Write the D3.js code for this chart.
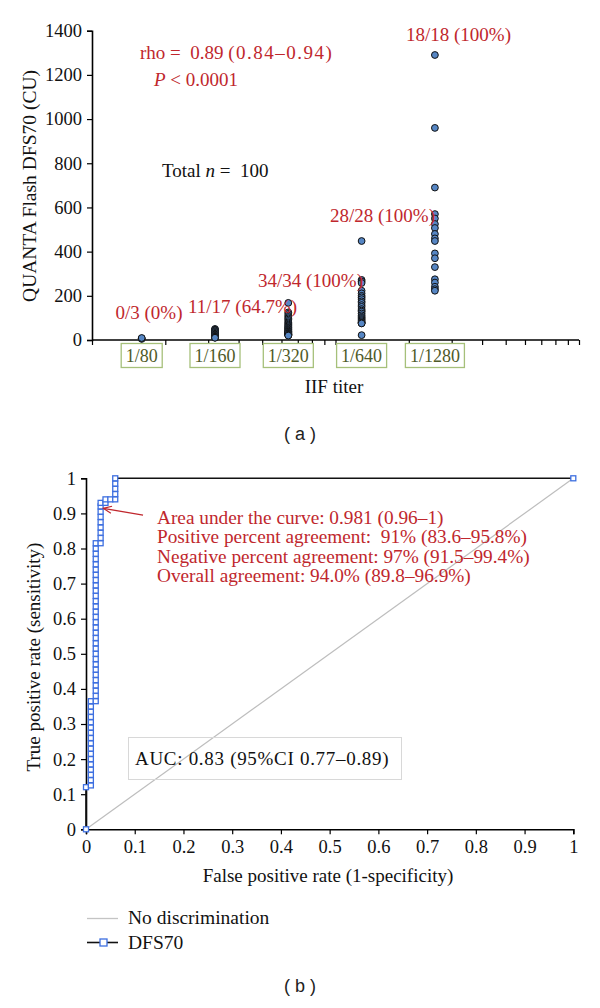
<!DOCTYPE html>
<html><head><meta charset="utf-8">
<script src="https://cdn.jsdelivr.net/npm/d3@7"></script>
<style>body{margin:0;background:#fff}svg{display:block}</style>
</head><body>
<script>
// ---------- Panel (a) data ----------
const titers = [80, 160, 320, 640, 1280];
const titerLabels = ["1/80", "1/160", "1/320", "1/640", "1/1280"];
const groupLabels = ["0/3 (0%)", "11/17 (64.7%)", "34/34 (100%)", "28/28 (100%)", "18/18 (100%)"];
const vals80 = [5, 7, 9];
const vals160 = [50, 47, 44, 40, 36, 32, 28, 25, 22, 20, 18, 16, 14, 13, 12, 11, 10];
const vals320 = [168, 125, 118, 110, 104, 98, 92, 86, 80, 75, 70, 66, 62, 58, 55, 52, 49, 46, 43, 40, 38, 36, 34, 32, 30, 28, 27, 26, 25, 24, 23, 22, 21, 20];
const vals640 = [448, 272, 265, 258, 223, 211, 200, 193, 185, 175, 168, 158, 150, 140, 133, 128, 120, 112, 105, 100, 95, 90, 85, 80, 78, 76, 75, 22];
const vals1280 = [1290, 960, 690, 570, 550, 525, 507, 480, 460, 448, 392, 370, 330, 275, 260, 241, 230, 223];
const yTicksA = [0, 200, 400, 600, 800, 1000, 1200, 1400];

// ---------- Panel (b) data ----------
const rocFpr = [0, 0, 0.01, 0.01, 0.01, 0.01, 0.01, 0.01, 0.01, 0.01, 0.01, 0.01, 0.01, 0.01, 0.01, 0.01, 0.01, 0.01, 0.01,
  0.02, 0.02, 0.02, 0.02, 0.02, 0.02, 0.02, 0.02, 0.02, 0.02, 0.02, 0.02, 0.02, 0.02, 0.02, 0.02, 0.02, 0.02, 0.02, 0.02, 0.02, 0.02, 0.02, 0.02, 0.02, 0.02, 0.02, 0.02, 0.02, 0.02, 0.02,
  0.03, 0.03, 0.03, 0.03, 0.03, 0.03, 0.03, 0.03, 0.03,
  0.04, 0.04, 0.05, 0.06, 0.06, 0.06, 0.06, 0.06, 1];
const rocTpr = [0, 0.12, 0.125, 0.14, 0.155, 0.17, 0.185, 0.20, 0.215, 0.23, 0.245, 0.26, 0.275, 0.29, 0.305, 0.32, 0.335, 0.35, 0.365,
  0.365, 0.38, 0.395, 0.41, 0.425, 0.44, 0.455, 0.47, 0.485, 0.50, 0.515, 0.53, 0.545, 0.56, 0.575, 0.59, 0.605, 0.62, 0.635, 0.65, 0.665, 0.68, 0.695, 0.71, 0.725, 0.74, 0.755, 0.77, 0.785, 0.80, 0.815,
  0.815, 0.83, 0.845, 0.86, 0.875, 0.89, 0.905, 0.92, 0.93,
  0.93, 0.94, 0.94, 0.94, 0.955, 0.97, 0.985, 1.0, 1.0];
const rocTicks = [0, 0.1, 0.2, 0.3, 0.4, 0.5, 0.6, 0.7, 0.8, 0.9, 1];
const rocTickLabels = ["0", "0.1", "0.2", "0.3", "0.4", "0.5", "0.6", "0.7", "0.8", "0.9", "1"];
const rocNotes = ["Area under the curve: 0.981 (0.96\u20131)", "Positive percent agreement:  91% (83.6\u201395.8%)", "Negative percent agreement: 97% (91.5\u201399.4%)", "Overall agreement: 94.0% (89.8\u201396.9%)"];
const legendNames = ["No discrimination", "DFS70"];

const SERIF = "'Liberation Serif', 'Times New Roman', serif";
const FS = "19px";
const RED = "#c0272d";
const svg = d3.select("body").append("svg").attr("width", 600).attr("height", 1008)
  .style("font-family", SERIF);

// ================= Panel (a) =================
const xA = d3.scaleLog().domain([50, 5000]).range([92, 579]);
const yA = d3.scaleLinear().domain([0, 1400]).range([340, 30.7]);
const gA = svg.append("g");

const yAxA = gA.append("g").attr("transform", "translate(92,0)")
  .call(d3.axisLeft(yA).tickValues(yTicksA).tickSize(5).tickPadding(5).tickFormat(d3.format("d")));
const xTicksA = [];
[50, 500].forEach(b => { for (let k = 1; k <= 10; k++) xTicksA.push(b * k); });
const xAxA = gA.append("g").attr("transform", "translate(0,340)")
  .call(d3.axisBottom(xA).tickValues(Array.from(new Set(xTicksA))).tickSize(5).tickFormat(""));
[yAxA, xAxA].forEach(ax => {
  ax.select(".domain").attr("stroke", "#000").attr("stroke-width", 1.6);
  ax.selectAll(".tick line").attr("stroke", "#000").attr("stroke-width", 1.2);
  ax.selectAll("text").style("font-family", SERIF).style("font-size", "18.5px").attr("fill", "#111");
});
xAxA.select(".domain").attr("d", "M92,0H579");

// category label boxes
const catG = gA.append("g");
titers.forEach((t, i) => {
  const tx = catG.append("text").attr("x", xA(t)).attr("y", 361.5).attr("text-anchor", "middle")
    .style("font-size", "18px").attr("fill", "#4f5a28").text(titerLabels[i]);
  const bb = tx.node().getBBox();
  catG.insert("rect", "text").attr("x", bb.x - 4.5).attr("y", 343.5).attr("width", bb.width + 9).attr("height", 24)
    .attr("fill", "#fff").attr("stroke", "#a6c07a").attr("stroke-width", 1.3);
});

// points
const groups = [vals80, vals160, vals320, vals640, vals1280];
groups.forEach((vals, i) => {
  gA.append("g").selectAll("circle").data(vals).join("circle")
    .attr("cx", xA(titers[i])).attr("cy", d => yA(d)).attr("r", 3.4)
    .attr("fill", "#5686c4").attr("stroke", "#111").attr("stroke-width", 1);
});

// group annotations (left-anchored)
const grpPos = [[115.5, 319], [188, 313], [258, 287], [330, 222], [406, 41]];
groupLabels.forEach((s, i) => {
  gA.append("text").attr("x", grpPos[i][0]).attr("y", grpPos[i][1])
    .style("font-size", FS).attr("fill", RED).text(s);
});

const rhoT = gA.append("text").attr("x", 140).attr("y", 59).style("font-size", FS).attr("fill", RED);
rhoT.append("tspan").text("rho = \u00a00.89 ");
rhoT.append("tspan").attr("letter-spacing", "1.5px").text("(0.84\u20130.94)");
const pT = gA.append("text").attr("x", 154).attr("y", 86).style("font-size", FS).attr("fill", RED);
pT.append("tspan").style("font-style", "italic").text("P");
pT.append("tspan").text(" < 0.0001");
const nT = gA.append("text").attr("x", 162).attr("y", 177).style("font-size", FS).attr("fill", "#111");
nT.append("tspan").text("Total ");
nT.append("tspan").style("font-style", "italic").text("n");
nT.append("tspan").text(" = \u00a0100");

gA.append("text").attr("transform", "translate(36,186) rotate(-90)").attr("text-anchor", "middle")
  .style("font-size", "19.5px").attr("fill", "#111").text("QUANTA Flash DFS70 (CU)");
gA.append("text").attr("x", 334).attr("y", 393).attr("text-anchor", "middle")
  .style("font-size", FS).attr("fill", "#111").text("IIF titer");
svg.append("text").attr("x", 300).attr("y", 440).attr("text-anchor", "middle")
  .style("font-family", "'Liberation Sans', Arial, sans-serif").style("font-size", "18px").attr("fill", "#222").text("( a )");

// ================= Panel (b) =================
const xB = d3.scaleLinear().domain([0, 1]).range([86, 573.3]);
const yB = d3.scaleLinear().domain([0, 1]).range([829.3, 478.3]);
const gB = svg.append("g");

const yAxB = gB.append("g").attr("transform", "translate(86,0)")
  .call(d3.axisLeft(yB).tickValues(rocTicks).tickSize(5).tickPadding(5).tickFormat((d, i) => rocTickLabels[i]));
const xAxB = gB.append("g").attr("transform", "translate(0,829.3)")
  .call(d3.axisBottom(xB).tickValues(rocTicks).tickSize(5).tickPadding(6).tickFormat((d, i) => rocTickLabels[i]));
[yAxB, xAxB].forEach(ax => {
  ax.select(".domain").attr("stroke", "#000").attr("stroke-width", 1.6);
  ax.selectAll(".tick line").attr("stroke", "#000").attr("stroke-width", 1.2);
  ax.selectAll("text").style("font-family", SERIF).style("font-size", "18.5px").attr("fill", "#111");
});

// no discrimination diagonal
gB.append("line").attr("x1", xB(0)).attr("y1", yB(0)).attr("x2", xB(1)).attr("y2", yB(1))
  .attr("stroke", "#bdbdbd").attr("stroke-width", 1.2);

// AUC box
gB.append("rect").attr("x", 128.5).attr("y", 737.5).attr("width", 273).attr("height", 42)
  .attr("fill", "none").attr("stroke", "#d8d8d8").attr("stroke-width", 1);
gB.append("text").attr("x", 135).attr("y", 765).style("font-size", FS).attr("letter-spacing", "0.7px").attr("fill", "#111")
  .text("AUC: 0.83 (95%CI 0.77\u20130.89)");

// ROC curve
const rocPts = rocFpr.map((f, i) => [f, rocTpr[i]]);
gB.append("path").datum(rocPts)
  .attr("d", d3.line().x(d => xB(d[0])).y(d => yB(d[1])))
  .attr("fill", "none").attr("stroke", "#111").attr("stroke-width", 1.6);
gB.append("g").selectAll("rect").data(rocPts).join("rect")
  .attr("x", d => xB(d[0]) - 2.5).attr("y", d => yB(d[1]) - 2.5).attr("width", 5).attr("height", 5)
  .attr("fill", "#fff").attr("stroke", "#3d6fe0").attr("stroke-width", 1.3);

// arrow annotation
const ax1 = xB(0.117), ay1 = yB(0.895), ax2 = xB(0.0355), ay2 = yB(0.9145);
gB.append("line").attr("x1", ax1).attr("y1", ay1).attr("x2", ax2).attr("y2", ay2)
  .attr("stroke", RED).attr("stroke-width", 1.2);
const ang = Math.atan2(ay1 - ay2, ax1 - ax2);
const hl = 9, ha = 0.4;
gB.append("path")
  .attr("d", `M${ax2 + hl * Math.cos(ang - ha)},${ay2 + hl * Math.sin(ang - ha)}L${ax2},${ay2}L${ax2 + hl * Math.cos(ang + ha)},${ay2 + hl * Math.sin(ang + ha)}`)
  .attr("fill", "none").attr("stroke", RED).attr("stroke-width", 1.2);

rocNotes.forEach((s, i) => {
  gB.append("text").attr("x", 157).attr("y", 524 + i * 19.4).style("font-size", "19.3px").attr("fill", RED)
    .attr("xml:space", "preserve").style("white-space", "pre").text(s);
});

gB.append("text").attr("transform", "translate(40,657) rotate(-90)").attr("text-anchor", "middle")
  .style("font-size", FS).attr("fill", "#111").text("True positive rate (sensitivity)");
gB.append("text").attr("x", 328).attr("y", 882).attr("text-anchor", "middle")
  .style("font-size", FS).attr("fill", "#111").text("False positive rate (1-specificity)");

// legend
const lg = svg.append("g");
lg.append("line").attr("x1", 87).attr("x2", 118).attr("y1", 918.5).attr("y2", 918.5).attr("stroke", "#c4c4c4").attr("stroke-width", 1.3);
lg.append("text").attr("x", 128).attr("y", 924).style("font-size", "19.5px").attr("fill", "#111").text(legendNames[0]);
lg.append("line").attr("x1", 87).attr("x2", 118).attr("y1", 942.5).attr("y2", 942.5).attr("stroke", "#111").attr("stroke-width", 1.6);
lg.append("rect").attr("x", 100).attr("y", 939).attr("width", 7).attr("height", 7).attr("fill", "#fff").attr("stroke", "#3d6fe0").attr("stroke-width", 1.3);
lg.append("text").attr("x", 128).attr("y", 948.5).style("font-size", "19.5px").attr("fill", "#111").text(legendNames[1]);

svg.append("text").attr("x", 300).attr("y", 992).attr("text-anchor", "middle")
  .style("font-family", "'Liberation Sans', Arial, sans-serif").style("font-size", "18px").attr("fill", "#222").text("( b )");
</script>
</body></html>
